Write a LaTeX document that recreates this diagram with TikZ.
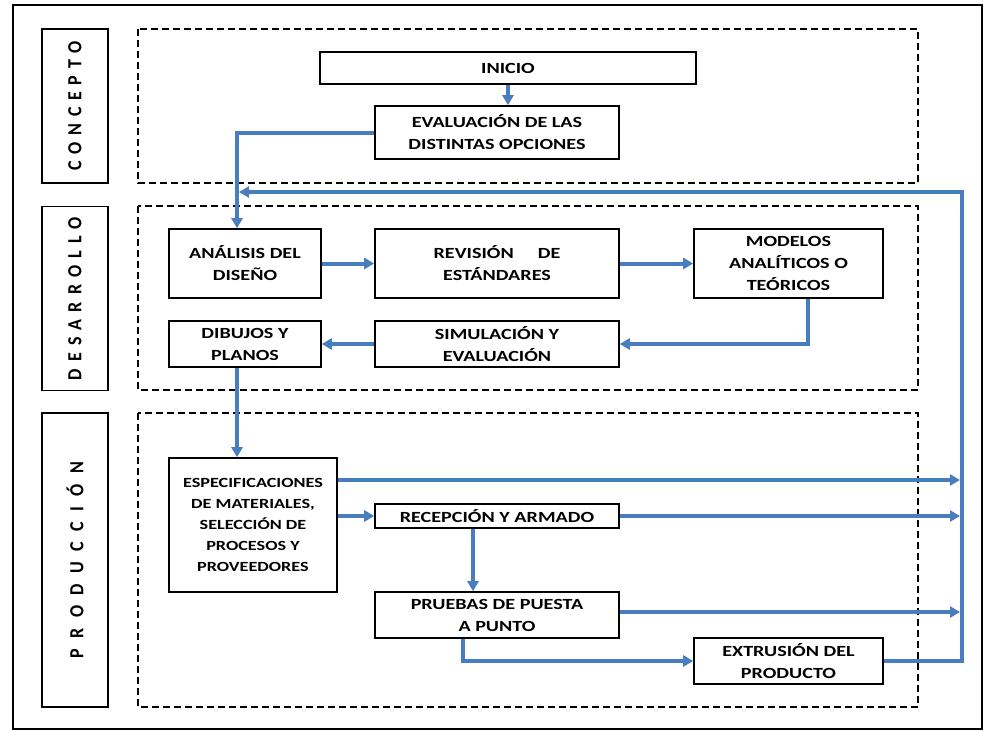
\documentclass[tikz,border=0pt]{standalone}
\usepackage{fontspec}
\setmainfont{Carlito}
\newfontfamily\boxfont{Carlito}[FakeStretch=1.3]
\newfontfamily\tagfont{Carlito}[FakeStretch=0.9]
\usetikzlibrary{arrows.meta}
\definecolor{lineblue}{RGB}{72,126,192}

\begin{document}
\begin{tikzpicture}[x=1pt,y=-1pt,>={Triangle[length=10pt,width=11pt]},
		blk/.style={draw,line width=1.6pt,align=center,inner sep=0pt,
			font=\boxfont\bfseries\fontsize{15.5}{22}\selectfont},
		zone/.style={draw,line width=1.4pt,dash pattern=on 7pt off 4pt},
		tag/.style={draw,line width=1.8pt,rotate=90,inner sep=0pt,minimum height=66pt,
			font=\tagfont\bfseries\fontsize{20}{20}\selectfont},
		link/.style={lineblue,line width=4pt,->}]
	\useasboundingbox (0,0) rectangle (989,731);
	\draw[line width=2pt] (13,5) rectangle (982,729);
	% fases
	\draw[zone] (138,29) rectangle (918,183);
	\draw[zone] (138,206) rectangle (918,390);
	\draw[zone] (138,413) rectangle (918,707);
	\node[tag,minimum width=154pt] (concepto) at (75,106) {\addfontfeature{LetterSpace=34}CONCEPTO};
	\node[tag,minimum width=184pt] (desarrollo) at (75,298.5) {\addfontfeature{LetterSpace=36}DESARROLLO};
	\node[tag,minimum width=294pt] (produccion) at (75,560) {\addfontfeature{LetterSpace=52}PRODUCCIÓN};
	% cajas
	\node[blk,minimum width=376pt,minimum height=32pt] (inicio) at (508,68) {INICIO};
	\node[blk,minimum width=244pt,minimum height=53pt] (eval) at (497,132.5) {EVALUACIÓN DE LAS\\DISTINTAS OPCIONES};
	\node[blk,minimum width=152pt,minimum height=69pt] (analisis) at (245,263.5) {ANÁLISIS DEL\\DISEÑO};
	\node[blk,minimum width=244pt,minimum height=69pt] (revision) at (497,263.5) {REVISIÓN\hspace{24pt}DE\\ESTÁNDARES};
	\node[blk,minimum width=189pt,minimum height=69pt] (modelos) at (788.5,263.5) {MODELOS\\ANALÍTICOS O\\TEÓRICOS};
	\node[blk,minimum width=152pt,minimum height=46pt] (dibujos) at (245,344) {DIBUJOS Y\\PLANOS};
	\node[blk,minimum width=244pt,minimum height=46pt] (simul) at (497,344) {SIMULACIÓN Y\\EVALUACIÓN};
	\node[blk,minimum width=168pt,minimum height=134pt,font=\boxfont\bfseries\fontsize{14}{21}\selectfont] (espec) at (253,525) {ESPECIFICACIONES\\DE MATERIALES,\\SELECCIÓN DE\\PROCESOS Y\\PROVEEDORES};
	\node[blk,minimum width=244pt,minimum height=24pt] (recep) at (497,516) {RECEPCIÓN Y ARMADO};
	\node[blk,minimum width=244pt,minimum height=46pt] (pruebas) at (497,615) {PRUEBAS DE PUESTA\\A PUNTO};
	\node[blk,minimum width=189pt,minimum height=46pt] (extrus) at (788.5,661) {EXTRUSIÓN DEL\\PRODUCTO};
	\coordinate (ret) at (962,192);
	\coordinate (retend) at (239,192);
	\coordinate (bus1) at (960,480);
	\coordinate (bus2) at (960,516);
	\coordinate (bus3) at (960,612);
	% flechas
	\draw[link] (inicio.south) -- (inicio.south |- eval.north);
	\draw[link] (eval.west) -| ([xshift=-8pt]analisis.north);
	\draw[link] (analisis) -- (revision);
	\draw[link] (revision) -- (modelos);
	\draw[link] ([xshift=19.5pt]modelos.south) |- (simul.east);
	\draw[link] (simul) -- (dibujos);
	\draw[link] ([xshift=-8pt]dibujos.south) -- ([xshift=-8pt]dibujos.south |- espec.north);
	\draw[link] ([yshift=45pt]espec.east) -- (bus1);
	\draw[link] ([yshift=9pt]espec.east) -- (recep.west);
	\draw[link] (recep.east) -- (bus2);
	\draw[link] ([xshift=-24pt]recep.south) -- ([xshift=-24pt]pruebas.north);
	\draw[link] ([yshift=3pt]pruebas.east) -- (bus3);
	\draw[link] ([xshift=-34pt]pruebas.south) |- (extrus.west);
	\draw[link] (extrus.east) -| (ret) -- (retend);
\end{tikzpicture}
\end{document}
